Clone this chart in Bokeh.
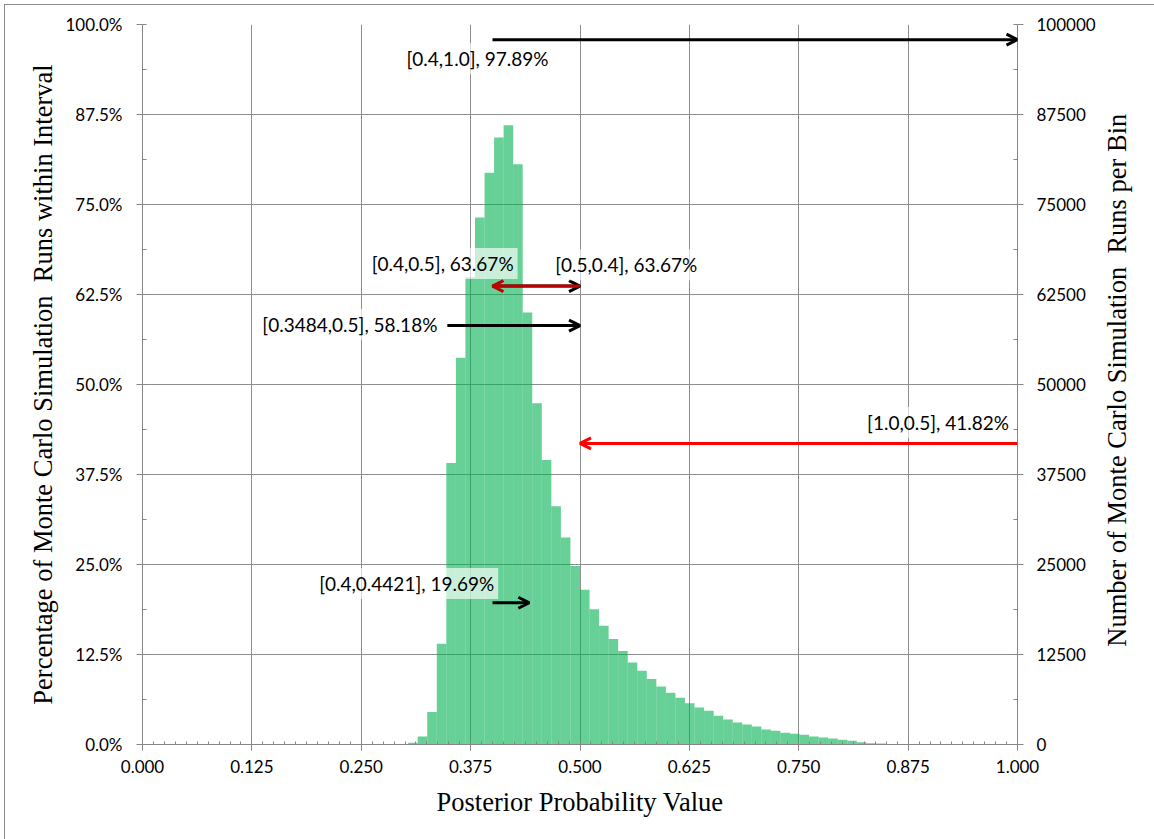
import math
import numpy as np
from bokeh.plotting import figure
from bokeh.layouts import row
from bokeh.models import (Range1d, LinearAxis, FixedTicker, PrintfTickFormatter,
                          BasicTickFormatter, NumeralTickFormatter, Arrow, OpenHead, Label)
from bokeh.embed import file_html
from bokeh.resources import INLINE

# Monte Carlo runs per histogram bin (secondary axis)
bin_counts = [250, 1100, 4500, 14000, 39100, 53700, 64900, 73200, 79400, 84300,
              86000, 80600, 60000, 47400, 39500, 33100, 28750, 24800, 21500, 18800,
              16500, 14650, 13000, 11400, 10250, 9100, 8060, 7180, 6490, 5740,
              5140, 4680, 3980, 3470, 3060, 2780, 2500, 2080, 1900, 1620,
              1480, 1350, 1100, 970, 830, 650, 510, 320, 180, 140]

# Credible intervals: start, end and share of runs inside
interval_starts = [0.4, 0.4, 0.5, 0.3484, 1.0, 0.4]
interval_ends = [1.0, 0.5, 0.4, 0.5, 0.5, 0.4421]
interval_pcts = [97.89, 63.67, 63.67, 58.18, 41.82, 19.69]
interval_colors = ["black", "black", "#C00000", "black", "#FF0000", "black"]

# Axis ticks
x_ticks = [0.0, 0.125, 0.25, 0.375, 0.5, 0.625, 0.75, 0.875, 1.0]
pct_ticks = [0.0, 12.5, 25.0, 37.5, 50.0, 62.5, 75.0, 87.5, 100.0]
count_ticks = [0, 12500, 25000, 37500, 50000, 62500, 75000, 87500, 100000]

x_title = "Posterior Probability Value"
left_title = "Percentage of Monte Carlo Simulation\u00a0 Runs within Interval"
right_title = "Number of Monte Carlo Simulation\u00a0 Runs per Bin"

# Layout of the histogram bins and label placement (data coordinates)
BIN_START = 0.3036
BIN_WIDTH = 0.01091
label_pos = [(0.3828, 95.28, "center"), (0.4287, 66.81, "right"), (0.5528, 66.64, "center"),
             (0.2370, 58.37, "center"), (0.9092, 44.72, "center"), (0.4065, 22.36, "right")]

AXIS_GRAY = "#868686"
GRID_GRAY = "#8e8e8e"
H = 834

p = figure(width=1095, height=H, x_range=Range1d(0, 1), y_range=Range1d(0, 100),
           output_backend="svg", toolbar_location=None,
           min_border_left=137, min_border_right=83, min_border_top=19, min_border_bottom=95)
p.outline_line_color = None
p.background_fill_color = "white"
p.border_fill_color = "white"

p.extra_y_ranges = {"count": Range1d(0, 100000)}

lefts = BIN_START + BIN_WIDTH * np.arange(len(bin_counts))
p.quad(left=lefts, right=lefts + BIN_WIDTH, bottom=0, top=bin_counts,
       y_range_name="count", fill_color="#00B050", fill_alpha=0.6, line_color=None)

# Bottom axis
xa = p.xaxis[0]
xa.ticker = FixedTicker(ticks=x_ticks, minor_ticks=list(np.linspace(0, 1, 81)))
xa.formatter = NumeralTickFormatter(format="0.000")
xa.axis_label = x_title

# Left axis (percent)
ya = p.yaxis[0]
ya.ticker = FixedTicker(ticks=pct_ticks, minor_ticks=list(np.linspace(0, 100, 17)))
ya.formatter = PrintfTickFormatter(format="%.1f%%")
ya.axis_label = left_title

# Right axis (counts)
ra = LinearAxis(y_range_name="count",
                ticker=FixedTicker(ticks=count_ticks, minor_ticks=list(np.linspace(0, 100000, 17))),
                formatter=BasicTickFormatter(use_scientific=False))
p.add_layout(ra, "right")

for ax in (xa, ya, ra):
    ax.axis_line_color = AXIS_GRAY
    ax.major_tick_line_color = AXIS_GRAY
    ax.minor_tick_line_color = AXIS_GRAY
    ax.major_tick_out = 6
    ax.major_tick_in = 0
    ax.minor_tick_out = 0
    ax.minor_tick_in = 4
    ax.major_label_text_font = "Lato"
    ax.major_label_text_font_size = "17px"
    ax.major_label_text_color = "black"
    ax.axis_label_text_font = "Liberation Serif"
    ax.axis_label_text_font_size = "26.5px"
    ax.axis_label_text_font_style = "normal"
    ax.axis_label_text_color = "black"

xa.minor_tick_in = 3
xa.major_label_standoff = 9
xa.axis_label_standoff = 11
ya.major_label_standoff = 14
ya.axis_label_standoff = 4
ra.major_label_standoff = 13

p.xgrid.ticker = FixedTicker(ticks=x_ticks)
p.ygrid.ticker = FixedTicker(ticks=pct_ticks)
for g in (p.xgrid[0], p.ygrid[0]):
    g.grid_line_color = GRID_GRAY
    g.grid_line_width = 1

# Interval arrows and their labels
for s, e, pct, col, (lx, ly, align) in zip(interval_starts, interval_ends, interval_pcts,
                                           interval_colors, label_pos):
    p.add_layout(Arrow(x_start=s, y_start=pct, x_end=e, y_end=pct,
                       line_color=col, line_width=3,
                       end=OpenHead(size=11, line_color=col, line_width=3)))
    p.add_layout(Label(x=lx, y=ly, text=f"[{s},{e}], {pct:.2f}%",
                       text_font="Lato", text_font_size="19px", text_color="black",
                       text_align=align, text_baseline="middle",
                       background_fill_color="white", background_fill_alpha=0.65,
                       padding=4))

# Narrow strip on the right carrying the secondary-axis title, read bottom to top
TW = 54
side = figure(width=TW, height=H, x_range=Range1d(0, TW), y_range=Range1d(0, H),
              output_backend="svg", toolbar_location=None,
              min_border=0, min_border_left=0, min_border_right=0,
              min_border_top=0, min_border_bottom=0)
side.axis.visible = False
side.grid.visible = False
side.outline_line_color = None
side.background_fill_color = "white"
side.border_fill_color = "white"
side.add_layout(Label(x=16, y=422, text=right_title, angle=math.pi / 2,
                      text_font="Liberation Serif", text_font_size="26.5px", text_color="black",
                      text_align="center", text_baseline="middle"))

chart = row(p, side, spacing=0)
chart.styles = {"margin-left": "4px", "margin-top": "4px",
                "border-top": "1px solid #8c8c8c", "border-left": "1px solid #8c8c8c"}

open("out.html", "w").write(file_html(chart, INLINE))
